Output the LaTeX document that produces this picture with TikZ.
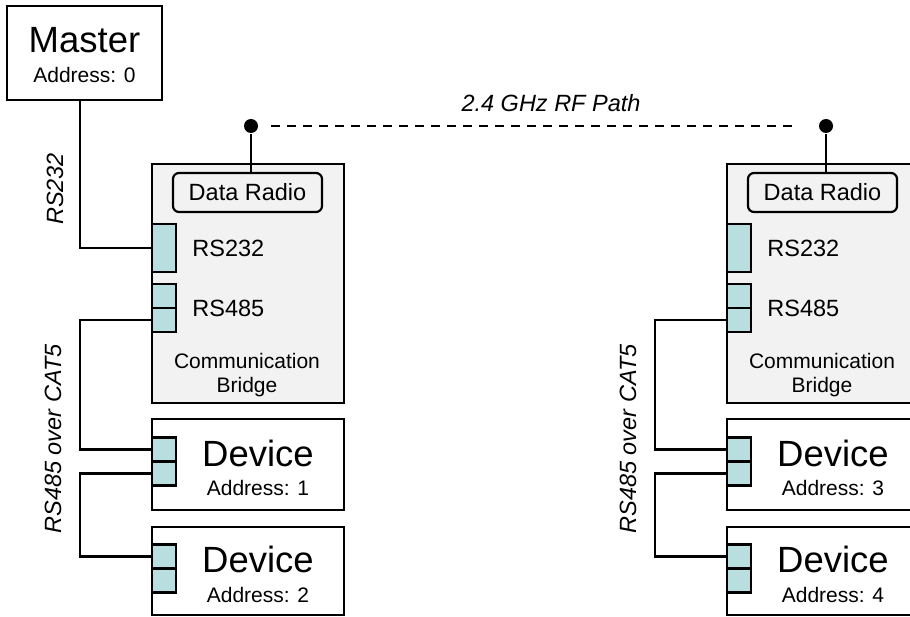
\documentclass[tikz,border=0pt]{standalone}
\usepackage{fontspec}
\setmainfont{Liberation Sans}
\usetikzlibrary{positioning}
\definecolor{portcol}{HTML}{B9DEE0}
\definecolor{bridgecol}{HTML}{F2F2F2}
\newcommand{\bigtxt}{\fontsize{36.5}{40}\selectfont}
\newcommand{\midtxt}{\fontsize{23.5}{26}\selectfont}
\newcommand{\smalltxt}{\fontsize{21}{24}\selectfont}

\begin{document}
\begin{tikzpicture}[x=1pt,y=-1pt,line width=2.2pt,
	box/.style={draw,fill=white,minimum width=192,minimum height=90,inner sep=0},
	bridgebox/.style={draw,fill=bridgecol,minimum width=192,minimum height=239,inner sep=0},
	radiobox/.style={draw,fill=bridgecol,rounded corners=6pt,minimum width=149,minimum height=39,inner sep=0,font=\midtxt},
	port/.style={draw,fill=portcol,minimum width=24,minimum height=24,inner sep=0},
	dot/.style={circle,fill=black,minimum size=14,inner sep=0},
	rf/.style={dashed,dash pattern=on 9pt off 7pt,shorten <=12pt,shorten >=24pt},
	lbl/.style={inner sep=0,font=\midtxt\itshape}]
	\useasboundingbox (0,0) rectangle (910,617);
	\clip (0,0) rectangle (910,617);

	% master
	\node[box,minimum width=155,minimum height=94] (master) at (84.5,53) {};
	\node[font=\bigtxt] (mastertxt) at (84.5,40) {Master};
	\node[font=\smalltxt] (masteradr) at (84.5,75) {Address: 0};

	\foreach \s/\dx/\na/\nb in {A/0/1/2,B/575/3/4} {
		% bridge with radio and ports
		\node[bridgebox] (bridge\s) at (248+\dx,283.5) {};
		\node[radiobox] (radio\s) at (247.5+\dx,192.5) {Data Radio};
		\node[port,minimum height=48] (rs232\s) at (164+\dx,248) {};
		\node[port] (rs485a\s) at (164+\dx,296) {};
		\node[port] (rs485b\s) at (164+\dx,320) {};
		\node[font=\midtxt,anchor=west] (rs232txt\s) at (188+\dx,248) {RS232};
		\node[font=\midtxt,anchor=west] (rs485txt\s) at (188+\dx,308) {RS485};
		\node[font=\smalltxt,align=center] (bridgetxt\s) at (247+\dx,375.5) {Communication\\Bridge};

		% devices
		\node[box,minimum height=91] (dev\na) at (248+\dx,464.5) {};
		\node[port] (dev\na a) at (164+\dx,449.5) {};
		\node[port] (dev\na b) at (164+\dx,473.5) {};
		\node[font=\bigtxt] (dev\na txt) at (258+\dx,453) {Device};
		\node[font=\smalltxt] (dev\na adr) at (258+\dx,488) {Address: \na};

		\node[box,minimum height=88] (dev\nb) at (248+\dx,571) {};
		\node[port] (dev\nb a) at (164+\dx,556.5) {};
		\node[port] (dev\nb b) at (164+\dx,580.5) {};
		\node[font=\bigtxt] (dev\nb txt) at (258+\dx,559.5) {Device};
		\node[font=\smalltxt] (dev\nb adr) at (258+\dx,594.5) {Address: \nb};

		% antenna
		\node[dot] (ant\s) at (251+\dx,126) {};
		\draw (radio\s.north -| ant\s) -- (ant\s);

		% RS485 bus
		\coordinate (bus\s) at (80+\dx,0);
		\draw (rs485b\s.west) -- (rs485b\s.west -| bus\s) |- (dev\na a.west);
		\draw (dev\na b.west) -- (dev\na b.west -| bus\s) |- (dev\nb a.west);
		\node[lbl,rotate=90] (cat\s) at (53+\dx,439) {RS485 over CAT5};
	}

	% RS232 link and RF path
	\draw (master.south -| busA) |- (rs232A.west);
	\node[lbl,rotate=90] (rs232lbl) at (55,189) {RS232};
	\draw[rf] (antA) -- (antB);
	\node[lbl] (rflbl) at (551,103) {2.4 GHz RF Path};
\end{tikzpicture}
\end{document}
